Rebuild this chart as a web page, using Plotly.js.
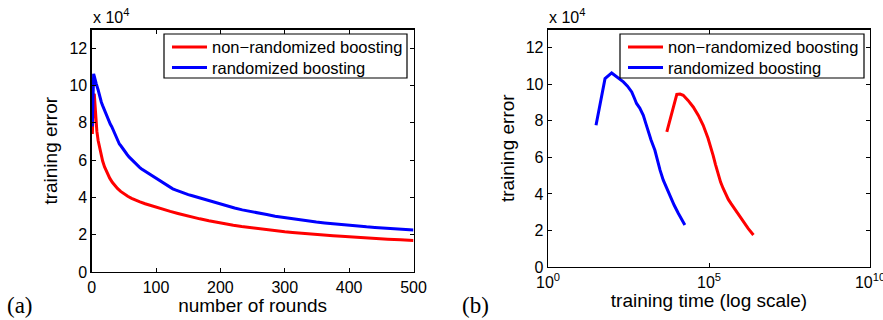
<!DOCTYPE html>
<html>
<head>
<meta charset="utf-8">
<script src="https://cdn.plot.ly/plotly-3.0.1.min.js"></script>
<style>html,body{margin:0;padding:0;background:#fff;}#chart{width:883px;height:320px;}</style>
</head>
<body>
<div id="chart"></div>
<script>
// ----- panel (a): training error (x 10^4) vs number of rounds -----
var roundsRed = [1, 2, 3, 4, 5, 6, 7, 8, 10, 12, 14, 17, 20, 24, 28, 32, 36, 40, 45, 50, 56, 62, 67, 75, 83, 91, 100, 111, 122, 134, 145, 157, 168, 182, 195, 208, 220, 233, 246, 259, 272, 286, 300, 312, 324, 337, 350, 362, 375, 388, 400, 414, 427, 444, 460, 480, 500];
var errRedA   = [7.4, 9.0, 9.5, 9.55, 9.0, 8.4, 7.9, 7.55, 7.05, 6.68, 6.35, 5.95, 5.63, 5.3, 5.03, 4.81, 4.63, 4.48, 4.32, 4.19, 4.06, 3.95, 3.87, 3.76, 3.66, 3.57, 3.47, 3.36, 3.25, 3.14, 3.04, 2.94, 2.85, 2.75, 2.66, 2.58, 2.51, 2.44, 2.38, 2.32, 2.26, 2.21, 2.16, 2.12, 2.08, 2.04, 2.0, 1.97, 1.94, 1.91, 1.88, 1.85, 1.82, 1.79, 1.76, 1.73, 1.69];
var roundsBlue = [1, 2, 3, 4, 5, 7, 10, 13, 15, 17, 19, 21, 23, 25, 27, 29, 31, 33, 35, 37, 39, 41, 43, 45, 47, 49, 52, 55, 58, 62, 66, 70, 74, 77, 81, 84, 88, 91, 95, 98, 102, 105, 109, 112, 117, 122, 126, 130, 135, 140, 145, 150, 155, 160, 168, 176, 185, 192, 199, 210, 222, 234, 246, 259, 272, 285, 298, 311, 324, 337, 349, 362, 375, 388, 401, 414, 427, 440, 453, 465, 477, 489, 500];
var errBlueA   = [7.8, 9.8, 10.62, 10.5, 10.3, 10.1, 9.76, 9.3, 9.1, 8.92, 8.75, 8.52, 8.34, 8.17, 8.05, 7.92, 7.8, 7.63, 7.45, 7.27, 7.1, 6.96, 6.86, 6.78, 6.67, 6.56, 6.42, 6.3, 6.17, 6.02, 5.88, 5.75, 5.62, 5.54, 5.45, 5.37, 5.29, 5.22, 5.14, 5.06, 4.97, 4.9, 4.8, 4.73, 4.62, 4.53, 4.46, 4.4, 4.33, 4.27, 4.21, 4.15, 4.1, 4.05, 3.97, 3.88, 3.78, 3.7, 3.62, 3.53, 3.43, 3.33, 3.24, 3.16, 3.08, 2.99, 2.92, 2.85, 2.79, 2.73, 2.68, 2.63, 2.58, 2.54, 2.5, 2.46, 2.42, 2.39, 2.36, 2.33, 2.3, 2.27, 2.25];

// ----- panel (b): training error (x 10^4) vs training time (log scale) -----
var timeRed  = [4898, 10000, 12589, 15849, 22387, 32359, 46774, 66069, 93325, 112202, 134896, 158489, 190546, 229087, 275423, 331131, 398107, 478630, 575440, 831764, 1174898, 1659587, 2398833];
var errRedB  = [7.39, 9.45, 9.47, 9.4, 9.12, 8.76, 8.3, 7.76, 7.05, 6.62, 6.1, 5.62, 5.1, 4.65, 4.3, 3.98, 3.7, 3.48, 3.27, 2.87, 2.48, 2.1, 1.75];
var timeBlue = [31, 59, 95, 141, 219, 295, 398, 479, 562, 708, 912, 1096, 1288, 1585, 2089, 2399, 3020, 3802, 4898, 6166, 8318, 11220, 14125, 17783];
var errBlueB = [7.76, 10.31, 10.62, 10.4, 10.13, 9.9, 9.58, 9.25, 8.95, 8.7, 8.3, 7.85, 7.39, 6.95, 6.39, 5.95, 5.3, 4.75, 4.28, 3.84, 3.38, 2.93, 2.6, 2.3];

var seriesNames = ['non\u2212randomized boosting', 'randomized boosting'];
var yTicks = [0, 2, 4, 6, 8, 10, 12];
var xTicksA = [0, 100, 200, 300, 400, 500];
var xTicksB = [1, 1e5, 1e10];
var xTickTextB = ['10<sup>0</sup>', '10<sup>5</sup>', '10<sup>10</sup>'];

var RED = '#ff0000', BLUE = '#0000ff';
var FONT = '"Liberation Sans", Arial, Helvetica, sans-serif';
var SERIF = '"Liberation Serif", "Times New Roman", serif';
var W = 883, H = 320;

var traces = [
  {x: roundsRed, y: errRedA, name: seriesNames[0], type: 'scatter', mode: 'lines',
   line: {color: RED, width: 3}, xaxis: 'x', yaxis: 'y', showlegend: false},
  {x: roundsBlue, y: errBlueA, name: seriesNames[1], type: 'scatter', mode: 'lines',
   line: {color: BLUE, width: 3}, xaxis: 'x', yaxis: 'y', showlegend: false},
  {x: timeRed, y: errRedB, name: seriesNames[0], type: 'scatter', mode: 'lines',
   line: {color: RED, width: 3}, xaxis: 'x2', yaxis: 'y2', showlegend: false},
  {x: timeBlue, y: errBlueB, name: seriesNames[1], type: 'scatter', mode: 'lines',
   line: {color: BLUE, width: 3}, xaxis: 'x2', yaxis: 'y2', showlegend: false}
];

function axisBase() {
  return {
    showline: true, linecolor: '#000', linewidth: 1.3, mirror: 'ticks',
    ticks: 'inside', ticklen: 4, tickcolor: '#000', tickwidth: 1,
    showgrid: false, zeroline: false, ticklabeloverflow: 'allow',
    tickfont: {family: FONT, size: 16, color: '#000'}
  };
}
var titleFont = {family: FONT, size: 19, color: '#000'};

var xa = Object.assign(axisBase(), {
  domain: [91.7 / W, 413.5 / W], range: [0, 500], tickmode: 'array', tickvals: xTicksA,
  title: {text: 'number of rounds', font: titleFont, standoff: 2},
  anchor: 'y'
});
var ya = Object.assign(axisBase(), {
  domain: [(H - 272) / H, (H - 29.5) / H], range: [0, 13], tickmode: 'array', tickvals: yTicks,
  title: {text: 'training error', font: titleFont, standoff: 6},
  anchor: 'x'
});
var xb = Object.assign(axisBase(), {
  domain: [548 / W, 870 / W], type: 'log', range: [0, 10], tickmode: 'array',
  tickvals: xTicksB, ticktext: xTickTextB,
  title: {text: 'training time (log scale)', font: titleFont, standoff: 0},
  anchor: 'y2'
});
var yb = Object.assign(axisBase(), {
  domain: [(H - 267) / H, (H - 29.5) / H], range: [0, 13], tickmode: 'array', tickvals: yTicks,
  title: {text: 'training error', font: titleFont, standoff: 6},
  anchor: 'x2'
});

// manual legend boxes (paper coordinates)
function px(x) { return x / W; }
function py(y) { return (H - y) / H; }
var shapes = [], annotations = [];
function addLegend(x0, x1, lineX0, lineX1, textX) {
  shapes.push({type: 'rect', xref: 'paper', yref: 'paper', x0: px(x0), x1: px(x1), y0: py(78), y1: py(34),
               fillcolor: '#fff', line: {color: '#000', width: 1.2}});
  var rowY = [47, 67.5], cols = [RED, BLUE];
  for (var i = 0; i < 2; i++) {
    shapes.push({type: 'line', xref: 'paper', yref: 'paper', x0: px(lineX0), x1: px(lineX1),
                 y0: py(rowY[i]), y1: py(rowY[i]), line: {color: cols[i], width: 3}});
    annotations.push({text: seriesNames[i], xref: 'paper', yref: 'paper', x: px(textX), y: py(rowY[i]),
                      xanchor: 'left', yanchor: 'middle', showarrow: false,
                      font: {family: FONT, size: 16.5, color: '#000'}});
  }
}
addLegend(164, 407, 172, 207, 209.5);
addLegend(620, 864, 628, 663, 665.5);

annotations.push(
  {text: 'x 10<sup>4</sup>', xref: 'paper', yref: 'paper', x: px(90.5), y: py(28),
   xanchor: 'left', yanchor: 'bottom', showarrow: false, font: {family: FONT, size: 16, color: '#000'}},
  {text: 'x 10<sup>4</sup>', xref: 'paper', yref: 'paper', x: px(546.5), y: py(28),
   xanchor: 'left', yanchor: 'bottom', showarrow: false, font: {family: FONT, size: 16, color: '#000'}},
  {text: '(a)', xref: 'paper', yref: 'paper', x: px(5), y: py(305),
   xanchor: 'left', yanchor: 'middle', showarrow: false, font: {family: SERIF, size: 23, color: '#000'}},
  {text: '(b)', xref: 'paper', yref: 'paper', x: px(460), y: py(305),
   xanchor: 'left', yanchor: 'middle', showarrow: false, font: {family: SERIF, size: 23, color: '#000'}}
);

var layout = {
  width: W, height: H,
  margin: {l: 0, r: 0, t: 0, b: 0},
  paper_bgcolor: '#fff', plot_bgcolor: '#fff',
  showlegend: false,
  xaxis: xa, yaxis: ya, xaxis2: xb, yaxis2: yb,
  shapes: shapes,
  annotations: annotations
};

Plotly.newPlot('chart', traces, layout, {displayModeBar: false, staticPlot: true});
</script>
</body>
</html>
